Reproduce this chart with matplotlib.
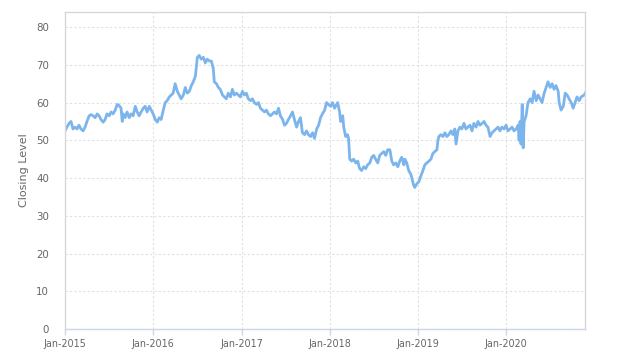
import matplotlib
matplotlib.use("Agg")
import matplotlib.pyplot as plt
import matplotlib.dates as mdates
import pandas as pd

dates = [
    # 2015
    "2015-01-01", "2015-01-09", "2015-01-18", "2015-01-26", "2015-02-03", "2015-02-12", "2015-02-20", "2015-02-28",
    "2015-03-08", "2015-03-17", "2015-03-25", "2015-04-02", "2015-04-11", "2015-04-19", "2015-04-27", "2015-05-06",
    "2015-05-14", "2015-05-22", "2015-05-30", "2015-06-08", "2015-06-16", "2015-06-24", "2015-07-03", "2015-07-11",
    "2015-07-19", "2015-07-28", "2015-08-05", "2015-08-13", "2015-08-21", "2015-08-26", "2015-08-30", "2015-09-07",
    "2015-09-15", "2015-09-24", "2015-10-02", "2015-10-10", "2015-10-19", "2015-10-27", "2015-11-04", "2015-11-12",
    "2015-11-21", "2015-11-29", "2015-12-07", "2015-12-16", "2015-12-24",
    # 2016
    "2016-01-01", "2016-01-10", "2016-01-18", "2016-01-26", "2016-02-03", "2016-02-12", "2016-02-20", "2016-02-28",
    "2016-03-08", "2016-03-16", "2016-03-24", "2016-04-01", "2016-04-10", "2016-04-18", "2016-04-26", "2016-05-05",
    "2016-05-13", "2016-05-21", "2016-05-30", "2016-06-07", "2016-06-15", "2016-06-24", "2016-07-02", "2016-07-10",
    "2016-07-18", "2016-07-27", "2016-08-04", "2016-08-12", "2016-08-21", "2016-08-29", "2016-09-06", "2016-09-10",
    "2016-09-19", "2016-09-27", "2016-10-05", "2016-10-14", "2016-10-22", "2016-10-30", "2016-11-07", "2016-11-16",
    "2016-11-24", "2016-12-02", "2016-12-11", "2016-12-19", "2016-12-27",
    # 2017
    "2017-01-05", "2017-01-13", "2017-01-21", "2017-01-29", "2017-02-07", "2017-02-15", "2017-02-23", "2017-03-04",
    "2017-03-12", "2017-03-20", "2017-03-29", "2017-04-06", "2017-04-14", "2017-04-22", "2017-05-01", "2017-05-09",
    "2017-05-17", "2017-05-26", "2017-06-03", "2017-06-11", "2017-06-20", "2017-06-28", "2017-07-06", "2017-07-14",
    "2017-07-23", "2017-07-31", "2017-08-08", "2017-08-17", "2017-08-25", "2017-09-02", "2017-09-10", "2017-09-19",
    "2017-09-27", "2017-10-05", "2017-10-14", "2017-10-22", "2017-10-30", "2017-11-08", "2017-11-16", "2017-11-24",
    "2017-12-02", "2017-12-11", "2017-12-19", "2017-12-27",
    # 2018
    "2018-01-05", "2018-01-13", "2018-01-21", "2018-01-30", "2018-02-03", "2018-02-11", "2018-02-15", "2018-02-24",
    "2018-02-28", "2018-03-08", "2018-03-16", "2018-03-20", "2018-03-25", "2018-04-02", "2018-04-10", "2018-04-19",
    "2018-04-27", "2018-05-05", "2018-05-13", "2018-05-22", "2018-05-30", "2018-06-07", "2018-06-16", "2018-06-24",
    "2018-07-02", "2018-07-10", "2018-07-19", "2018-07-27", "2018-08-04", "2018-08-13", "2018-08-21", "2018-08-29",
    "2018-09-07", "2018-09-15", "2018-09-23", "2018-10-02", "2018-10-10", "2018-10-18", "2018-10-26", "2018-11-04",
    "2018-11-08", "2018-11-16", "2018-11-24", "2018-12-03", "2018-12-11", "2018-12-15", "2018-12-19", "2018-12-28",
    # 2019
    "2019-01-05", "2019-01-13", "2019-01-22", "2019-01-30", "2019-02-07", "2019-02-16", "2019-02-24", "2019-03-04",
    "2019-03-12", "2019-03-21", "2019-03-25", "2019-03-29", "2019-04-06", "2019-04-15", "2019-04-23", "2019-05-01",
    "2019-05-09", "2019-05-18", "2019-05-26", "2019-06-03", "2019-06-08", "2019-06-16", "2019-06-24", "2019-07-02",
    "2019-07-11", "2019-07-19", "2019-07-27", "2019-08-05", "2019-08-13", "2019-08-21", "2019-08-30", "2019-09-07",
    "2019-09-15", "2019-09-24", "2019-10-02", "2019-10-10", "2019-10-18", "2019-10-27", "2019-11-04", "2019-11-12",
    "2019-11-21", "2019-11-29", "2019-12-07", "2019-12-15", "2019-12-24",
    # 2020
    "2020-01-01", "2020-01-09", "2020-01-18", "2020-01-26", "2020-02-03", "2020-02-12", "2020-02-20", "2020-02-24",
    "2020-02-28", "2020-03-03", "2020-03-08", "2020-03-12", "2020-03-16", "2020-03-24", "2020-04-01", "2020-04-10",
    "2020-04-18", "2020-04-26", "2020-05-05", "2020-05-13", "2020-05-21", "2020-05-29", "2020-06-07", "2020-06-15",
    "2020-06-23", "2020-07-02", "2020-07-10", "2020-07-18", "2020-07-26", "2020-08-04", "2020-08-08", "2020-08-16",
    "2020-08-25", "2020-09-02", "2020-09-10", "2020-09-18", "2020-09-27", "2020-10-05", "2020-10-13", "2020-10-21",
    "2020-10-30", "2020-11-07", "2020-11-20", "2020-11-24",
]

closing_level = [
    # 2015
    52.5, 53.5, 54.5, 55, 53, 53.5, 53, 54,
    53, 52.5, 53.5, 55, 56.5, 56.8, 56.5, 56,
    57, 56.5, 55.5, 54.8, 55.5, 57, 56.5, 57.5,
    57, 58, 59.5, 59.2, 58.5, 55, 57, 56,
    57.5, 56, 57, 56.5, 59, 57.5, 56.5, 57.5,
    58.5, 59, 57.5, 59, 58,
    # 2016
    57, 55.5, 54.8, 56, 55.5, 58, 60, 60.5,
    61.5, 62, 62.5, 65, 63, 62, 61, 62,
    64, 62.5, 63, 64.5, 65.5, 67, 72, 72.5,
    71.5, 72, 70.5, 71.5, 71, 71, 69, 65.5,
    65, 64, 63.5, 62, 61.5, 61, 62.5, 61.5,
    63.5, 62, 62.5, 62, 61.5,
    # 2017
    63, 62, 62.5, 61, 60.5, 61, 60, 59.5,
    60, 58.5, 58, 57.5, 58, 57, 56.5, 57,
    57.5, 57, 58.5, 56.5, 55.5, 54, 54.5, 55.5,
    56.5, 57.5, 55.5, 53.5, 55, 56, 52, 51.5,
    52.5, 51.5, 51, 52, 50.5, 53, 54, 56,
    57, 58, 60, 59.5,
    # 2018
    59, 60, 58.5, 59.5, 60, 57.5, 55, 56.5,
    53.5, 51, 51.5, 50.5, 45, 44.5, 45, 44,
    44.5, 42.5, 42, 43, 42.5, 43.5, 44, 45.5,
    46, 45, 44, 46, 46.5, 47, 46, 47.5,
    47.5, 44.5, 43.5, 44, 43, 44.5, 45.5, 43.5,
    45, 44, 42, 41, 39, 38, 37.5, 38.5,
    # 2019
    39, 40.5, 42, 43.5, 44, 44.5, 45, 46.5,
    47, 47.5, 50, 51, 51.5, 51, 52, 51,
    51.5, 52.5, 51.5, 53, 49, 52.5, 53.5, 53,
    54.5, 53, 53.5, 54, 52.5, 54.5, 53.5, 55,
    54, 54.5, 55, 54, 53.5, 51, 52, 52.5,
    53, 53.5, 52.5, 53.5, 53,
    # 2020
    54, 52.5, 53, 53.5, 52.5, 53, 54, 50,
    55, 49, 59.5, 48, 55, 56.5, 60, 61,
    60, 63, 60.5, 62, 61, 60, 62.5, 64,
    65.5, 64, 65, 63.5, 64.5, 63, 60, 58,
    59, 62.5, 62, 61, 60, 58.5, 60, 61.5,
    60.5, 61.5, 62, 62.5,
]

x_ticks = ["2015-01-01", "2016-01-01", "2017-01-01", "2018-01-01", "2019-01-01", "2020-01-01"]
y_ticks = [0, 10, 20, 30, 40, 50, 60, 70, 80]
y_label = "Closing Level"

d = pd.to_datetime(dates)
fig = plt.figure(figsize=(6.24, 3.62), dpi=100)
ax = fig.add_axes([65 / 624, 33 / 362, 520 / 624, 317 / 362])

ax.plot(d, closing_level, color="#7cb5ec", linewidth=2.0, solid_joinstyle="round")

ax.set_xlim(pd.Timestamp("2015-01-01"), pd.Timestamp("2020-11-23"))
ax.set_ylim(0, 84)
ax.set_yticks(y_ticks)
ax.set_xticks(pd.to_datetime(x_ticks))
ax.xaxis.set_major_formatter(mdates.DateFormatter("%b-%Y"))

ax.grid(True, color="#e0e0e0", linestyle=(0, (2, 2)), linewidth=0.8)
ax.set_axisbelow(True)

for side in ["left", "right", "top"]:
    ax.spines[side].set_color("#d8d8d8")
    ax.spines[side].set_linewidth(1.0)
ax.spines["bottom"].set_color("#ccd6eb")
ax.spines["bottom"].set_linewidth(1.0)

ax.tick_params(axis="y", length=0, pad=11.5, labelsize=7.4, labelcolor="#666666")
ax.tick_params(axis="x", length=4, width=1, color="#ccd6eb", pad=3, labelsize=6.9, labelcolor="#666666")
ax.set_ylabel(y_label, fontsize=8, color="#666666", labelpad=5)

fig.savefig("out.png", dpi=100)
